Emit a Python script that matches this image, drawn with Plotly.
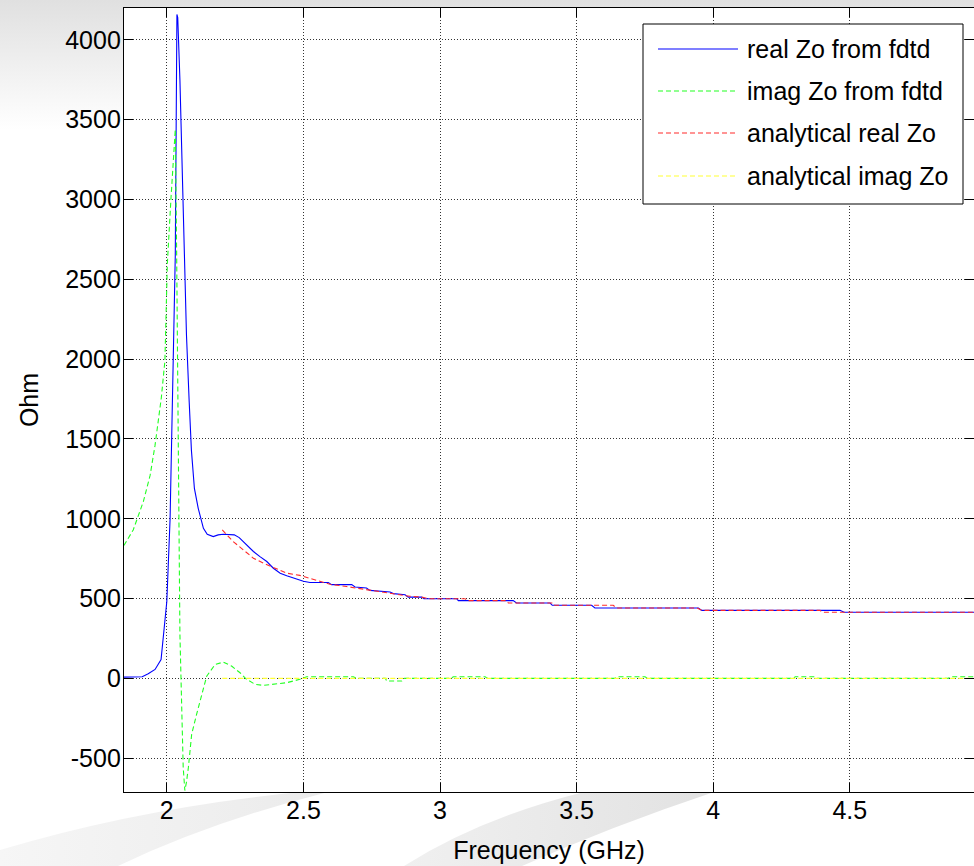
import base64
import plotly.graph_objects as go

# ---------------- data ----------------
real_fdtd_x = [1.843, 1.87, 1.91, 1.932, 1.957, 1.979, 1.987, 2.0, 2.012, 2.020, 2.031,
               2.037, 2.040, 2.048, 2.058, 2.064, 2.072, 2.082, 2.090, 2.101, 2.115,
               2.134, 2.148, 2.170, 2.188, 2.207, 2.230, 2.247, 2.265, 2.292, 2.317,
               2.341, 2.366, 2.390, 2.415, 2.439, 2.463, 2.487, 2.50, 2.524, 2.591,
               2.603, 2.677, 2.689, 2.731, 2.743, 2.817, 2.829, 2.872, 2.884, 2.933,
               2.941, 3.061, 3.067, 3.268, 3.280, 3.403, 3.411, 3.555, 3.567, 3.946,
               3.958, 4.464, 4.479, 4.96]
real_fdtd_y = [8, 8, 10, 29, 56, 118, 275, 482, 1000, 1606, 2650,
               4160, 4140, 3750, 3000, 2650, 2150, 1730, 1430, 1190, 1065,
               940, 903, 888, 899, 903, 902, 899, 882, 836, 795,
               763, 732, 690, 659, 643, 628, 614, 608, 601, 601,
               587, 587, 572, 566, 551, 541, 531, 524, 509, 509,
               499, 499, 487, 487, 472, 472, 458, 458, 441, 441,
               426, 426, 414, 414]

imag_fdtd_x = [1.843, 1.877, 1.914, 1.939, 1.957, 1.969, 1.980, 1.993, 2.002, 2.015,
               2.031, 2.036, 2.042, 2.044, 2.048, 2.054, 2.060, 2.066, 2.072, 2.079,
               2.091, 2.109, 2.128, 2.146, 2.177, 2.207, 2.237, 2.268, 2.292, 2.323,
               2.353, 2.390, 2.439, 2.487, 2.512, 2.683, 2.695, 2.800, 2.805, 2.860,
               2.870, 3.040, 3.049, 3.165, 3.175, 3.640, 3.647, 3.750, 3.760, 4.295,
               4.300, 4.372, 4.380, 4.860, 4.867, 4.96]
imag_fdtd_y = [832, 930, 1107, 1273, 1461, 1606, 1760, 1989, 2600, 3000,
               3440, 2668, 1606, 900, 275, -142, -558, -703, -650, -558,
               -350, -225, -100, 14, 87, 102, 77, 35, -6, -37,
               -44, -37, -27, -6, 10, 10, 0, 0, -17, -17,
               0, 0, 10, 10, 0, 0, 10, 10, 0, 0,
               10, 10, 0, 0, 10, 10]

an_real_x = [2.203, 2.243, 2.280, 2.317, 2.353, 2.390, 2.439, 2.487, 2.524, 2.560,
             2.597, 2.658, 2.731, 2.817, 2.890, 2.933, 2.960, 3.092, 3.098, 3.244,
             3.250, 3.415, 3.420, 3.634, 3.646, 3.940, 3.958, 4.391, 4.400, 4.96]
an_real_y = [930, 857, 805, 753, 722, 697, 659, 645, 628, 607,
             590, 575, 556, 531, 514, 509, 499, 499, 487, 487,
             472, 472, 458, 458, 441, 441, 426, 426, 414, 414]

an_imag_x = [2.203, 2.5, 3.0, 3.5, 4.0, 4.5, 4.96]
an_imag_y = [0, 0, 0, 0, 0, 0, 0]

x_tick_vals = [2, 2.5, 3, 3.5, 4, 4.5]
x_tick_text = ["2", "2.5", "3", "3.5", "4", "4.5"]
y_tick_vals = [-500, 0, 500, 1000, 1500, 2000, 2500, 3000, 3500, 4000]
y_tick_text = ["-500", "0", "500", "1000", "1500", "2000", "2500", "3000", "3500", "4000"]

series_names = ["real Zo from fdtd", "imag Zo from fdtd",
                "analytical real Zo", "analytical imag Zo"]
series_colors = ["#0000ff", "#22ff22", "#ff2a2a", "#ffff33"]
series_dash = ["solid", "5px,3px", "5px,3px", "5px,3px"]

# ---------------- layout geometry ----------------
W, H = 974, 866
L, R, T, B = 124, 0, 8, 74
PW, PH = W - L - R, H - T - B
FONT = "Liberation Sans, Arial, sans-serif"


def px2paper(px, py):
    return (px - L) / PW, (H - B - py) / PH


# background image (gradient + swooshes) drawn as SVG
svg = f"""<svg xmlns='http://www.w3.org/2000/svg' width='{W}' height='{H}' viewBox='0 0 {W} {H}'>
<defs>
<linearGradient id='g' x1='0' y1='0' x2='0' y2='1'>
<stop offset='0' stop-color='#e0e0e0'/><stop offset='0.15' stop-color='#ffffff'/>
<stop offset='1' stop-color='#ffffff'/></linearGradient>
<linearGradient id='s1' x1='0' y1='0' x2='1' y2='0'>
<stop offset='0' stop-color='#f6f6f6'/><stop offset='1' stop-color='#ebebeb'/></linearGradient>
<linearGradient id='s2' x1='0' y1='0' x2='1' y2='0'>
<stop offset='0' stop-color='#f0f0f0'/><stop offset='1' stop-color='#e2e2e2'/></linearGradient>
</defs>
<rect x='0' y='0' width='{W}' height='{H}' fill='url(#g)'/>
<path d='M0,850 Q140,808 300,792 L328,792 Q210,822 118,866 L0,866 Z' fill='url(#s1)'/>
<path d='M404,866 Q480,818 584,792 L714,792 Q612,826 522,866 Z' fill='url(#s2)'/>
<rect x='{L}' y='{T}' width='{PW}' height='{PH}' fill='#ffffff'/>
</svg>"""
svg_uri = "data:image/svg+xml;base64," + base64.b64encode(svg.encode()).decode()

fig = go.Figure()
data_sets = [(real_fdtd_x, real_fdtd_y), (imag_fdtd_x, imag_fdtd_y),
             (an_real_x, an_real_y), (an_imag_x, an_imag_y)]
for (xs, ys), name, col, dash in zip(data_sets, series_names, series_colors, series_dash):
    fig.add_trace(go.Scatter(x=xs, y=ys, mode="lines", name=name,
                             line=dict(color=col, width=1.1, dash=dash),
                             showlegend=False))

# manual legend (MATLAB style, long line samples)
shapes = []
annotations = []
x0, y0 = px2paper(643, 24)
x1, y1 = px2paper(963, 204)
shapes.append(dict(type="rect", xref="paper", yref="paper", x0=x0, y0=y1, x1=x1, y1=y0,
                   line=dict(color="black", width=1), fillcolor="white", layer="above"))
row_y = [49, 91, 133, 176]
for ry, name, col, dash in zip(row_y, series_names, series_colors, series_dash):
    lx0, ly = px2paper(658, ry)
    lx1, _ = px2paper(738, ry)
    shapes.append(dict(type="line", xref="paper", yref="paper", x0=lx0, x1=lx1, y0=ly, y1=ly,
                       line=dict(color=col, width=1.1, dash=dash), layer="above"))
    tx, _ = px2paper(745, ry)
    annotations.append(dict(xref="paper", yref="paper", x=tx, y=ly, text=name,
                            showarrow=False, xanchor="left", yanchor="middle",
                            font=dict(family=FONT, size=25, color="black")))

axis_common = dict(showline=True, linecolor="black", linewidth=1.3, mirror="ticks",
                   ticks="inside", ticklen=9, tickcolor="black", tickwidth=1,
                   showgrid=True, gridcolor="#333333", gridwidth=1, griddash="1px,2px",
                   zeroline=False, tickfont=dict(family=FONT, size=25, color="black"))

fig.update_layout(
    width=W, height=H,
    margin=dict(l=L, r=R, t=T, b=B, pad=0),
    paper_bgcolor="white", plot_bgcolor="white",
    images=[dict(source=svg_uri, xref="paper", yref="paper",
                 x=-L / PW, y=1 + T / PH, sizex=W / PW, sizey=H / PH,
                 xanchor="left", yanchor="top", sizing="stretch", layer="below")],
    xaxis=dict(range=[1.8433, 4.9546], tickvals=x_tick_vals, ticktext=x_tick_text,
               title=dict(text="Frequency (GHz)", font=dict(family=FONT, size=25, color="black"),
                          standoff=18),
               ticklabelstandoff=-4, **axis_common),
    yaxis=dict(range=[-712, 4200], tickvals=y_tick_vals, ticktext=y_tick_text,
               title=dict(text="Ohm", font=dict(family=FONT, size=25, color="black"),
                          standoff=19),
               ticklabelstandoff=-3, **axis_common),
    shapes=shapes, annotations=annotations, showlegend=False,
)

fig.write_html("out.html")
